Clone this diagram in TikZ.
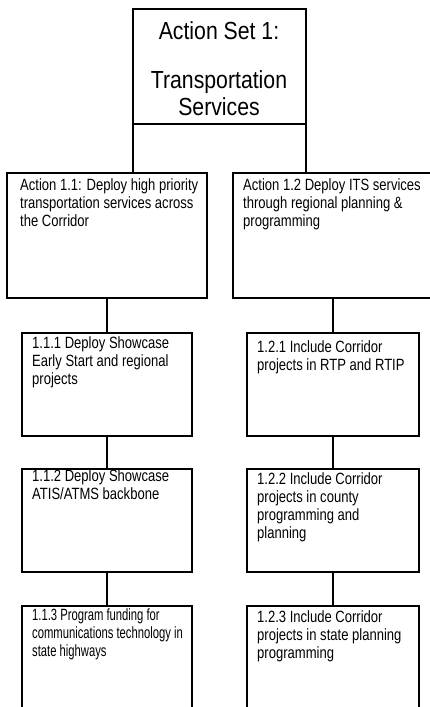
\documentclass[tikz,border=0pt]{standalone}
\usepackage{fontspec}
\setmainfont{Liberation Sans}
\newfontfamily\titlefont[FakeStretch=0.86]{Liberation Sans}
\newfontfamily\bodyfont[FakeStretch=0.80]{Liberation Sans}
\newfontfamily\tightfont[FakeStretch=0.69]{Liberation Sans}
\begin{document}
\begin{tikzpicture}[x=1pt,y=-1pt,
  box/.style={draw,line width=2pt,rectangle,inner sep=0pt,outer sep=0pt,anchor=north west},
  link/.style={line width=2pt},
  boxtext/.style={anchor=north west,inner sep=0pt,align=left,
    font=\bodyfont\fontsize{16.3}{18}\selectfont},
  tighttext/.style={boxtext,font=\tightfont\fontsize{16.3}{18}\selectfont},
  titletext/.style={anchor=north,inner sep=0pt,align=center,
    font=\titlefont\fontsize{24.7}{27}\selectfont}]
\useasboundingbox (0,0) rectangle (430,707);
\clip (0,0) rectangle (430,707);

% boxes
\node[box,minimum width=173pt,minimum height=115pt] (top) at (133,9) {};
\node[box,minimum width=200pt,minimum height=125pt] (a11) at (7,173) {};
\node[box,minimum width=200pt,minimum height=125pt] (a12) at (233,173) {};
\node[box,minimum width=170pt,minimum height=103pt] (b111) at (22,333) {};
\node[box,minimum width=172pt,minimum height=103pt] (b121) at (247,333) {};
\node[box,minimum width=170pt,minimum height=103pt] (b112) at (22,469) {};
\node[box,minimum width=172pt,minimum height=103pt] (b122) at (247,469) {};
\node[box,minimum width=170pt,minimum height=125pt] (b113) at (22,606) {};
\node[box,minimum width=172pt,minimum height=125pt] (b123) at (247,606) {};

% connectors
\draw[link] (top.south west) -- (top.south west |- a11.north);
\draw[link] (top.south east) -- (top.south east |- a12.north);
\draw[link] (a11.south) -- (a11.south |- b111.north);
\draw[link] (a12.south) -- (a12.south |- b121.north);
\draw[link] (b111.south) -- (b112.north);
\draw[link] (b121.south) -- (b122.north);
\draw[link] (b112.south) -- (b113.north);
\draw[link] (b122.south) -- (b123.north);

% texts
\node[titletext] (ttop) at (219,21) {Action Set 1:\\[22pt]Transportation\\Services};
\node[boxtext] (t11) at (20,178) {Action 1.1: Deploy high priority\\transportation services across\\the Corridor};
\node[boxtext] (t12) at (243,178) {Action 1.2 Deploy ITS services\\through regional planning \&\\programming};
\node[boxtext] (t111) at (32,336) {1.1.1 Deploy Showcase\\Early Start and regional\\projects};
\node[boxtext] (t121) at (257,340) {1.2.1 Include Corridor\\projects in RTP and RTIP};
\node[boxtext] (t112) at (32,469) {1.1.2 Deploy Showcase\\ATIS/ATMS backbone};
\node[boxtext] (t122) at (257,472) {1.2.2 Include Corridor\\projects in county\\programming and\\planning};
\node[tighttext] (t113) at (32,608) {1.1.3 Program funding for\\communications technology in\\state highways};
\node[boxtext] (t123) at (257,610) {1.2.3 Include Corridor\\projects in state planning\\programming};
\end{tikzpicture}
\end{document}
